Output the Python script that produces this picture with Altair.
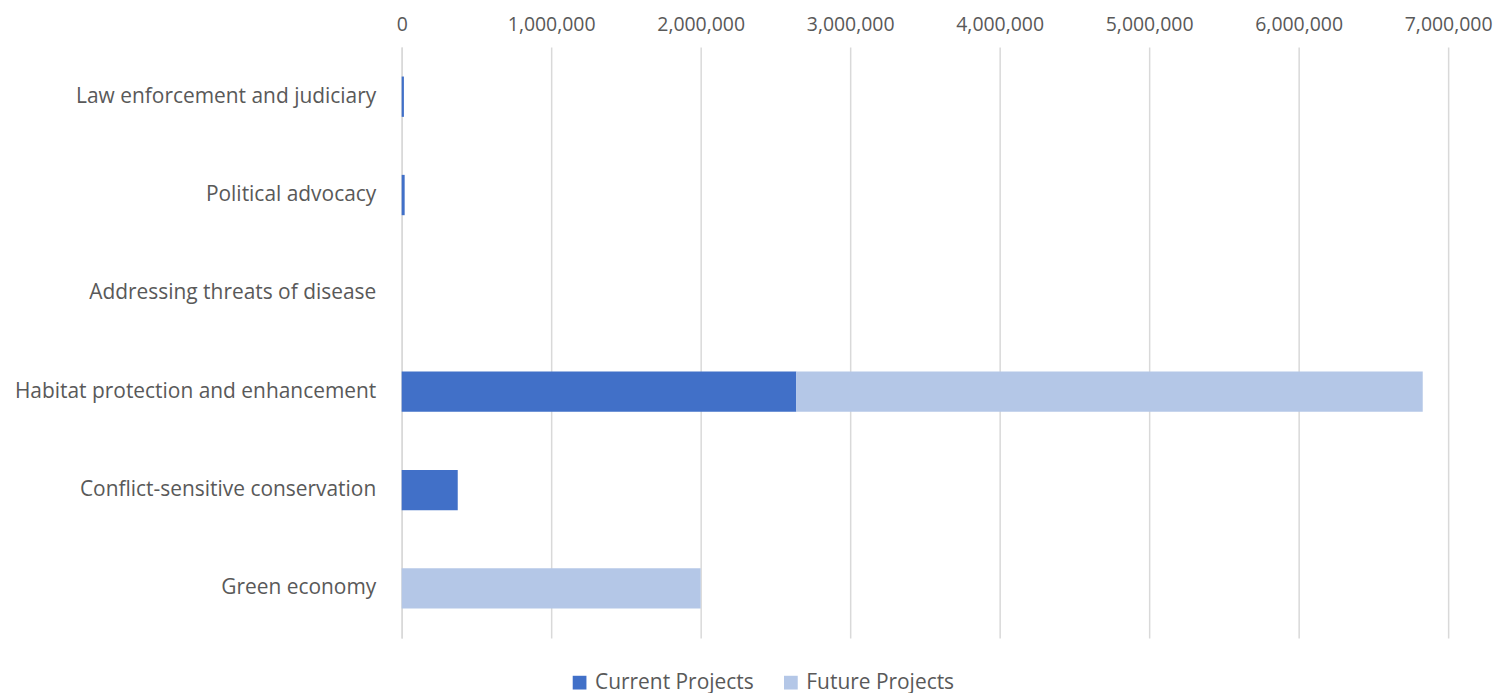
import altair as alt
import pandas as pd

categories = [
    "Law enforcement and judiciary",
    "Political advocacy",
    "Addressing threats of disease",
    "Habitat protection and enhancement",
    "Conflict-sensitive conservation",
    "Green economy",
]
current_values = [15000, 20000, 0, 2640000, 375000, 0]
future_values = [0, 0, 0, 4190000, 0, 2000000]
series = ["Current Projects", "Future Projects"]
x_ticks = [0, 1000000, 2000000, 3000000, 4000000, 5000000, 6000000, 7000000]

rows = []
for i, c in enumerate(categories):
    rows.append({"category": c, "series": series[0], "value": current_values[i], "order": 0})
    rows.append({"category": c, "series": series[1], "value": future_values[i], "order": 1})
df = pd.DataFrame(rows)

FONT = "Open Sans"
TXT = "#595959"

chart = alt.Chart(df).mark_bar().encode(
    y=alt.Y("category:N", sort=categories, title=None,
            scale=alt.Scale(paddingInner=0.59, paddingOuter=0.3),
            axis=alt.Axis(labelFont=FONT, labelFontSize=21, labelColor=TXT,
                          labelPadding=26, ticks=False, domain=True,
                          domainColor="#d9d9d9", domainWidth=1.5, grid=False,
                          labelLimit=500)),
    x=alt.X("value:Q", stack="zero", title=None,
            scale=alt.Scale(domain=[0, 7000000], nice=False),
            axis=alt.Axis(orient="top", values=x_ticks, format=",d",
                          labelFont=FONT, labelFontSize=19.5, labelColor=TXT,
                          labelPadding=13, ticks=False, domain=False,
                          labelFlush=False, labelOverlap=False,
                          grid=True, gridColor="#d9d9d9", gridWidth=1.5)),
    color=alt.Color("series:N", sort=series,
                     scale=alt.Scale(domain=series, range=["#4170C8", "#B4C7E7"]),
                     legend=alt.Legend(title=None, orient="none", direction="horizontal",
                                       legendX=168, legendY=627,
                                       symbolType="square", symbolSize=190,
                                       symbolStrokeWidth=0,
                                       labelFont=FONT, labelFontSize=21, labelColor=TXT,
                                       columnPadding=26, labelOffset=5)),
    order=alt.Order("order:Q"),
).properties(
    width=1050, height=593,
    padding={"left": 395, "top": 38, "right": 45, "bottom": 62},
    autosize=alt.AutoSizeParams(type="none"),
).configure_view(stroke=None)

chart.save("out.html", embed_options={"renderer": "svg", "actions": False})
